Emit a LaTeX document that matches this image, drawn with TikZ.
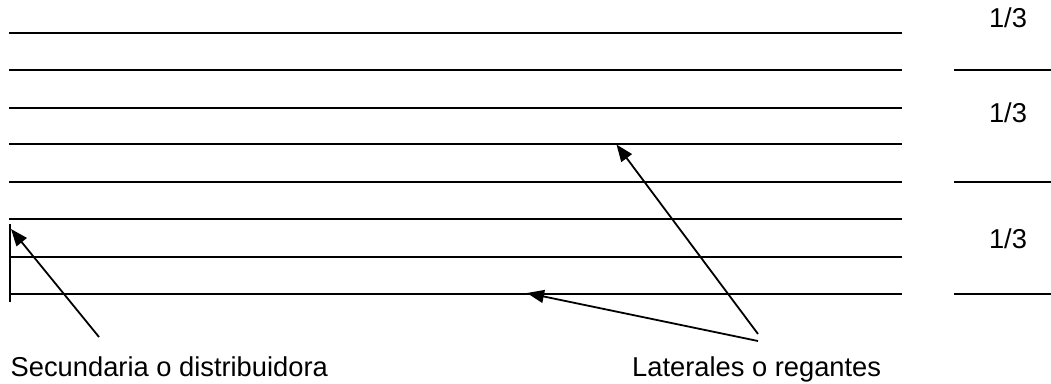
\documentclass[tikz,border=0pt]{standalone}
\usepackage{fontspec}
\setmainfont{Liberation Sans}
\usetikzlibrary{arrows.meta}
\tikzset{
  lateral/.style={line width=2pt},
  pointer/.style={line width=1.8pt,-{Triangle[length=17pt,width=13pt]}},
  lbl/.style={inner sep=0pt,font=\fontsize{27.3}{32}\selectfont}
}
\begin{document}
\begin{tikzpicture}[x=1pt,y=-1pt]
\useasboundingbox (0,0) rectangle (1051,383);
% lateral lines
\foreach \y in {33,70,108,144,182,219,257,294}
  \draw[lateral] (9,\y) -- (902,\y);
% secondary line
\draw[lateral] (10,224) -- (10,302);
% thirds
\foreach \y in {70,182,294}
  \draw[lateral] (954,\y) -- (1051,\y);
\node[lbl] (t1) at (1008,18) {1/3};
\node[lbl] (t2) at (1008,112.5) {1/3};
\node[lbl] (t3) at (1008,238.5) {1/3};
% labels
\node[lbl,anchor=base west] (sec) at (10.5,376) {Secundaria o distribuidora};
\node[lbl,anchor=base west] (lat) at (632,376) {Laterales o regantes};
% arrows
\coordinate (secTail) at (99,337);
\coordinate (secTip) at (11,229);
\coordinate (latTailA) at (758,334);
\coordinate (latTailB) at (758,341);
\coordinate (latTipA) at (616.5,144.5);
\coordinate (latTipB) at (527,293);
\draw[pointer] (secTail) -- (secTip);
\draw[pointer] (latTailA) -- (latTipA);
\draw[pointer] (latTailB) -- (latTipB);
\end{tikzpicture}
\end{document}
